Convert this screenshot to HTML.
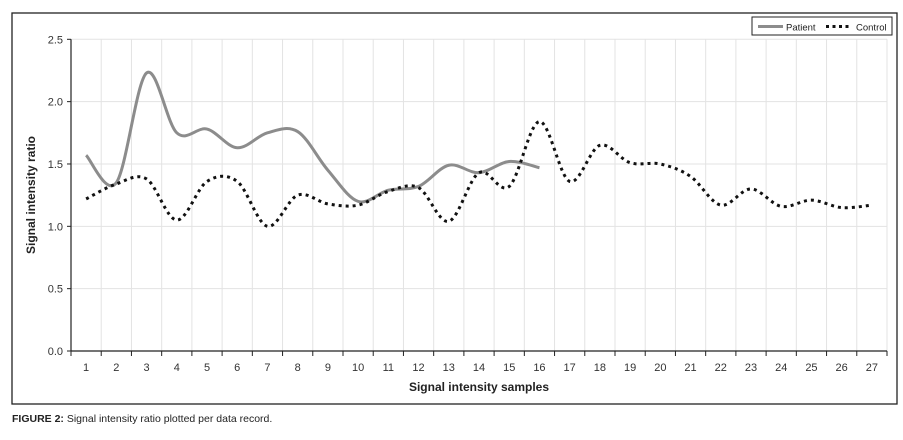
<!DOCTYPE html>
<html><head><meta charset="utf-8"><style>
body{margin:0;background:#fff;font-family:"Liberation Sans",sans-serif}
svg{display:block}
</style></head><body>
<svg id="chart" width="903" height="440">
<rect x="12" y="13" width="885" height="391" fill="#fff" stroke="#222" stroke-width="1.3"/>
<g id="grid"></g><g id="axes"></g><g id="series"></g>
<g>
<rect x="752" y="17" width="140" height="18" fill="#fff" stroke="#222" stroke-width="1"/>
<line x1="758" y1="26.5" x2="783" y2="26.5" stroke="#8c8c8c" stroke-width="3"/>
<text x="786" y="30.5" font-size="9.5" fill="#222">Patient</text>
<line x1="826" y1="26.5" x2="852" y2="26.5" stroke="#111" stroke-width="3" stroke-dasharray="3,3.5"/>
<text x="856" y="30.5" font-size="9.5" fill="#222">Control</text>
</g>
<text transform="translate(35,195) rotate(-90)" text-anchor="middle" font-size="12" font-weight="bold" fill="#222">Signal intensity ratio</text>
<text x="479" y="391" text-anchor="middle" font-size="12" font-weight="bold" fill="#222">Signal intensity samples</text>
<text x="12" y="422" font-size="10.5" fill="#222"><tspan font-weight="bold">FIGURE 2:</tspan> Signal intensity ratio plotted per data record.</text>
</svg>
<script>
const categories = ["1","2","3","4","5","6","7","8","9","10","11","12","13","14","15","16","17","18","19","20","21","22","23","24","25","26","27"];
const patientValues = [1.57,1.35,2.23,1.75,1.78,1.63,1.75,1.76,1.45,1.2,1.29,1.32,1.49,1.43,1.52,1.47];
const controlValues = [1.22,1.34,1.38,1.05,1.36,1.36,1.0,1.25,1.18,1.17,1.28,1.31,1.04,1.43,1.32,1.84,1.36,1.65,1.51,1.5,1.4,1.17,1.3,1.16,1.21,1.15,1.17];
const yTicks = [0,0.5,1,1.5,2,2.5];
const NS="http://www.w3.org/2000/svg";
const L=71,R=887,T=39.3,B=351,yMax=2.5;
const bw=(R-L)/categories.length;
const xPos=i=>L+(i+0.5)*bw;
const yPos=v=>B-(v/yMax)*(B-T);
function mk(tag,attrs,parent){const e=document.createElementNS(NS,tag);for(const k in attrs)e.setAttribute(k,attrs[k]);parent.appendChild(e);return e;}
const grid=document.getElementById('grid'),axes=document.getElementById('axes'),series=document.getElementById('series');
yTicks.forEach(t=>{
  const g=mk('line',{x1:L,x2:R,y1:yPos(t),y2:yPos(t),stroke:'#e3e3e3','stroke-width':1},grid);
  
  
  const tx=mk('text',{x:L-8,y:yPos(t)+4,'text-anchor':'end','font-size':11,fill:'#333'},axes);
  tx.textContent=t.toFixed(1);
  
  
  mk('line',{x1:L-4,x2:L,y1:yPos(t),y2:yPos(t),stroke:'#222'},axes);
});
for(let i=0;i<=categories.length;i++){
  const x=L+i*bw;
  if(i>0){const g=mk('line',{x1:x,x2:x,y1:T,y2:B,stroke:'#e3e3e3'},grid);
  
  }
  mk('line',{x1:x,x2:x,y1:B,y2:B+5,stroke:'#222'},axes);
}
categories.forEach((c,i)=>{
  const tx=mk('text',{x:xPos(i),y:B+20,'text-anchor':'middle','font-size':11,fill:'#333'},axes);
  tx.textContent=c;
  
  
});
const ya=mk('line',{x1:L,x2:L,y1:T,y2:B,stroke:'#222','stroke-width':1.2},axes);


const xa=mk('line',{x1:L,x2:R,y1:B,y2:B,stroke:'#222','stroke-width':1.2},axes);


function smooth(vals){
  const p=vals.map((v,i)=>[xPos(i),yPos(v)]);
  let d='M'+p[0][0]+','+p[0][1];
  for(let i=0;i<p.length-1;i++){
    const p0=p[i-1]||p[i],p1=p[i],p2=p[i+1],p3=p[i+2]||p2;
    const t=1/6;
    d+=' C'+(p1[0]+(p2[0]-p0[0])*t)+','+(p1[1]+(p2[1]-p0[1])*t)+' '+(p2[0]-(p3[0]-p1[0])*t)+','+(p2[1]-(p3[1]-p1[1])*t)+' '+p2[0]+','+p2[1];
  }
  return d;
}
const pl=mk('path',{d:smooth(patientValues),fill:'none',stroke:'#8c8c8c','stroke-width':3},series);


const cl=mk('path',{d:smooth(controlValues),fill:'none',stroke:'#111','stroke-width':3,'stroke-dasharray':'3,4'},series);


</script>
</body></html>
